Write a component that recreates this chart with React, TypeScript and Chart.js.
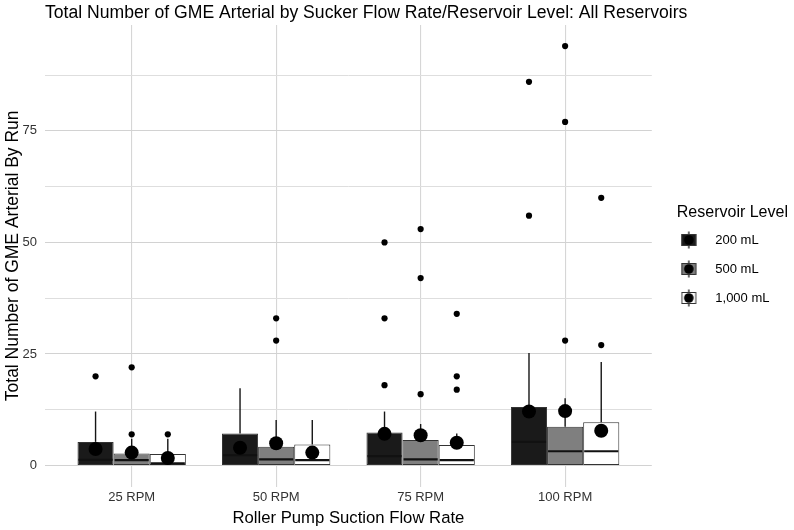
import React, { useEffect, useRef } from 'react';
import { Chart, registerables } from 'chart.js';

Chart.register(...registerables);

// ---- data ----
const categories = ['25 RPM', '50 RPM', '75 RPM', '100 RPM'];
const categoryPositions = [1, 2, 3, 4];
const levels = ['200 mL', '500 mL', '1,000 mL'];
const yTickValues = [0, 12.5, 25, 37.5, 50, 62.5, 75, 87.5];

const lower200 = [0, 0, 0, 0];
const q1_200 = [0, 0, 0, 0];
const median200 = [1.3, 2.3, 2.1, 5.3];
const q3_200 = [5.3, 7.2, 7.4, 13.1];
const upper200 = [12.1, 17.3, 12.1, 25.2];
const mean200 = [3.7, 4.0, 7.1, 12.1];
const outliers200 = [[20], [], [18, 33, 50], [56, 86]];

const lower500 = [0, 0, 0, 0];
const q1_500 = [0, 0, 0, 0];
const median500 = [1.2, 1.4, 1.4, 3.2];
const q3_500 = [2.7, 4.2, 5.7, 8.7];
const upper500 = [6, 10.2, 9.3, 15.1];
const mean500 = [2.9, 5.0, 6.8, 12.2];
const outliers500 = [[7, 22], [28, 33], [16, 42, 53], [28, 77, 94]];

const lower1000 = [0, 0, 0, 0];
const q1_1000 = [0, 0, 0, 0];
const median1000 = [0.5, 1.2, 1.2, 3.2];
const q3_1000 = [2.6, 4.7, 4.6, 9.7];
const upper1000 = [6, 10.2, 7.2, 23.2];
const mean1000 = [1.7, 2.9, 5.1, 7.8];
const outliers1000 = [[7], [], [17, 20, 34], [27, 60]];

const fills = ['#1a1a1a', '#7f7f7f', '#ffffff'];

const groups = [
  { lo: lower200, q1: q1_200, med: median200, q3: q3_200, hi: upper200, mean: mean200, out: outliers200 },
  { lo: lower500, q1: q1_500, med: median500, q3: q3_500, hi: upper500, mean: mean500, out: outliers500 },
  { lo: lower1000, q1: q1_1000, med: median1000, q3: q3_1000, hi: upper1000, mean: mean1000, out: outliers1000 },
];

const FONT = "'Liberation Sans', Arial, sans-serif";

const layoutTweaks = {
  id: 'layoutTweaks',
  afterLayout(chart: any) {
    const t = chart.titleBlock;
    if (t) {
      t.right = chart.width;
      t.width = t.right - t.left;
    }
    const l = chart.legend;
    if (l) {
      l.right = chart.width;
      l.width = l.right - l.left;
    }
  },
};

const boxExtras = {
  id: 'boxExtras',
  beforeDatasetsDraw(chart: any) {
    const y = chart.scales.y;
    const ctx = chart.ctx;
    ctx.save();
    ctx.strokeStyle = '#151515';
    ctx.lineWidth = 1.4;
    groups.forEach((g, di) => {
      const meta = chart.getDatasetMeta(di);
      meta.data.forEach((el: any, i: number) => {
        const { x } = el.getProps(['x'], true);
        ctx.beginPath();
        ctx.moveTo(x, y.getPixelForValue(g.q3[i]));
        ctx.lineTo(x, y.getPixelForValue(g.hi[i]));
        if (g.lo[i] < g.q1[i]) {
          ctx.moveTo(x, y.getPixelForValue(g.q1[i]));
          ctx.lineTo(x, y.getPixelForValue(g.lo[i]));
        }
        ctx.stroke();
      });
    });
    ctx.restore();
  },
  afterDatasetsDraw(chart: any) {
    const y = chart.scales.y;
    const ctx = chart.ctx;
    ctx.save();
    groups.forEach((g, di) => {
      const meta = chart.getDatasetMeta(di);
      meta.data.forEach((el: any, i: number) => {
        const { x, width } = el.getProps(['x', 'width'], true);
        ctx.strokeStyle = '#111111';
        ctx.lineWidth = 2.2;
        const my = y.getPixelForValue(g.med[i]);
        ctx.beginPath();
        ctx.moveTo(x - width / 2 + 1, my);
        ctx.lineTo(x + width / 2 - 1, my);
        ctx.stroke();
        ctx.fillStyle = '#000000';
        g.out[i].forEach((v: number) => {
          ctx.beginPath();
          ctx.arc(x, y.getPixelForValue(v), 3.1, 0, Math.PI * 2);
          ctx.fill();
        });
      });
    });
    groups.forEach((g, di) => {
      const meta = chart.getDatasetMeta(di);
      meta.data.forEach((el: any, i: number) => {
        const { x } = el.getProps(['x'], true);
        ctx.fillStyle = '#000000';
        ctx.beginPath();
        ctx.arc(x, y.getPixelForValue(g.mean[i]), 7, 0, Math.PI * 2);
        ctx.fill();
      });
    });
    ctx.restore();
  },
};

function makeKey(fill: string): HTMLCanvasElement {
  const c = document.createElement('canvas');
  c.width = 40;
  c.height = 24;
  const k = c.getContext('2d')!;
  k.strokeStyle = '#1a1a1a';
  k.lineWidth = 1.3;
  k.beginPath();
  k.moveTo(8, 3.5);
  k.lineTo(8, 20.5);
  k.stroke();
  k.fillStyle = fill;
  k.fillRect(0.5, 6, 15, 12);
  k.strokeStyle = '#333333';
  k.lineWidth = 1;
  k.strokeRect(1, 6.5, 14, 11);
  k.fillStyle = '#000000';
  k.beginPath();
  k.arc(8, 12, 4.8, 0, Math.PI * 2);
  k.fill();
  return c;
}

export default function App() {
  const ref = useRef<HTMLCanvasElement | null>(null);

  useEffect(() => {
    if (!ref.current) return;
    Chart.defaults.font.family = FONT;
    const keys = fills.map(makeKey);

    const datasets = groups.map((g, di) => ({
      label: levels[di],
      data: categoryPositions.map((p, i) => ({ x: p, y: [g.q1[i], g.q3[i]] })),
      backgroundColor: fills[di],
      borderColor: '#333333',
      borderWidth: 1,
      borderSkipped: false,
      categoryPercentage: 0.75,
      barPercentage: 1,
    }));

    const chart = new Chart(ref.current, {
      type: 'bar',
      data: { datasets } as any,
      plugins: [layoutTweaks, boxExtras],
      options: {
        animation: false,
        responsive: true,
        maintainAspectRatio: false,
        events: [],
        layout: { padding: { left: 0, right: 14.5, top: 0, bottom: 0 } },
        plugins: {
          tooltip: { enabled: false },
          title: {
            display: true,
            text: 'Total Number of GME Arterial by Sucker Flow Rate/Reservoir Level: All Reservoirs',
            align: 'start',
            fullSize: false,
            color: '#000000',
            font: { size: 17.6, weight: 'normal', family: FONT },
            padding: { top: 2.5, bottom: 1.5 },
          },
          legend: {
            position: 'right',
            align: 'start',
            title: {
              display: true,
              text: 'Reservoir Level',
              position: 'start',
              color: '#000000',
              font: { size: 16, lineHeight: 0.75, family: FONT },
              padding: { top: 205, bottom: 0.5 },
            },
            labels: {
              usePointStyle: true,
              pointStyleWidth: 16,
              padding: 16,
              color: '#000000',
              font: { size: 13, family: FONT },
              generateLabels: () =>
                levels.map((t, i) => ({
                  text: t,
                  pointStyle: keys[i],
                  fillStyle: fills[i],
                  strokeStyle: '#333333',
                  lineWidth: 0,
                  hidden: false,
                  datasetIndex: i,
                })),
            },
          } as any,
        },
        scales: {
          x: {
            type: 'linear',
            min: 0.4,
            max: 4.6,
            offset: false,
            afterBuildTicks: (s: any) => {
              s.ticks = categoryPositions.map((v) => ({ value: v }));
            },
            afterFit: (s: any) => {
              s.height = 43.5;
            },
            grid: { color: '#d6d6d6', lineWidth: 1.1, drawTicks: false, offset: false },
            border: { display: false },
            ticks: {
              padding: 3,
              color: '#333333',
              font: { size: 13, family: FONT },
              callback: (v: any) => categories[categoryPositions.indexOf(Number(v))] ?? '',
            },
            title: {
              display: true,
              text: 'Roller Pump Suction Flow Rate',
              color: '#000000',
              font: { size: 16.7, family: FONT },
              padding: { top: 0, bottom: 2 },
            },
          },
          y: {
            type: 'linear',
            min: -4.7,
            max: 98.7,
            afterBuildTicks: (s: any) => {
              s.ticks = yTickValues.map((v) => ({ value: v }));
            },
            afterFit: (s: any) => {
              s.width = 45;
            },
            grid: {
              drawTicks: false,
              color: (c: any) => (c.tick && c.tick.value % 25 === 0 ? '#d2d2d2' : '#dedede'),
              lineWidth: (c: any) => (c.tick && c.tick.value % 25 === 0 ? 1.1 : 1),
            },
            border: { display: false },
            ticks: {
              padding: 8,
              color: '#333333',
              font: { size: 13, family: FONT },
              callback: (v: any) => (Number(v) % 25 === 0 ? String(v) : ''),
            },
            title: {
              display: true,
              text: 'Total Number of GME Arterial By Run',
              color: '#000000',
              font: { size: 17.5, family: FONT },
              padding: { top: 3, bottom: 0 },
            },
          },
          yRight: {
            type: 'linear',
            position: 'right',
            display: true,
            afterFit: (s: any) => {
              s.width = 25;
            },
            grid: { display: false, drawTicks: false },
            border: { display: false },
            ticks: { display: false },
          },
        },
      } as any,
    });
    return () => chart.destroy();
  }, []);

  return (
    <div style={{ position: 'fixed', left: 0, top: 0, width: 794, height: 530, background: '#ffffff' }}>
      <canvas ref={ref} />
    </div>
  );
}
